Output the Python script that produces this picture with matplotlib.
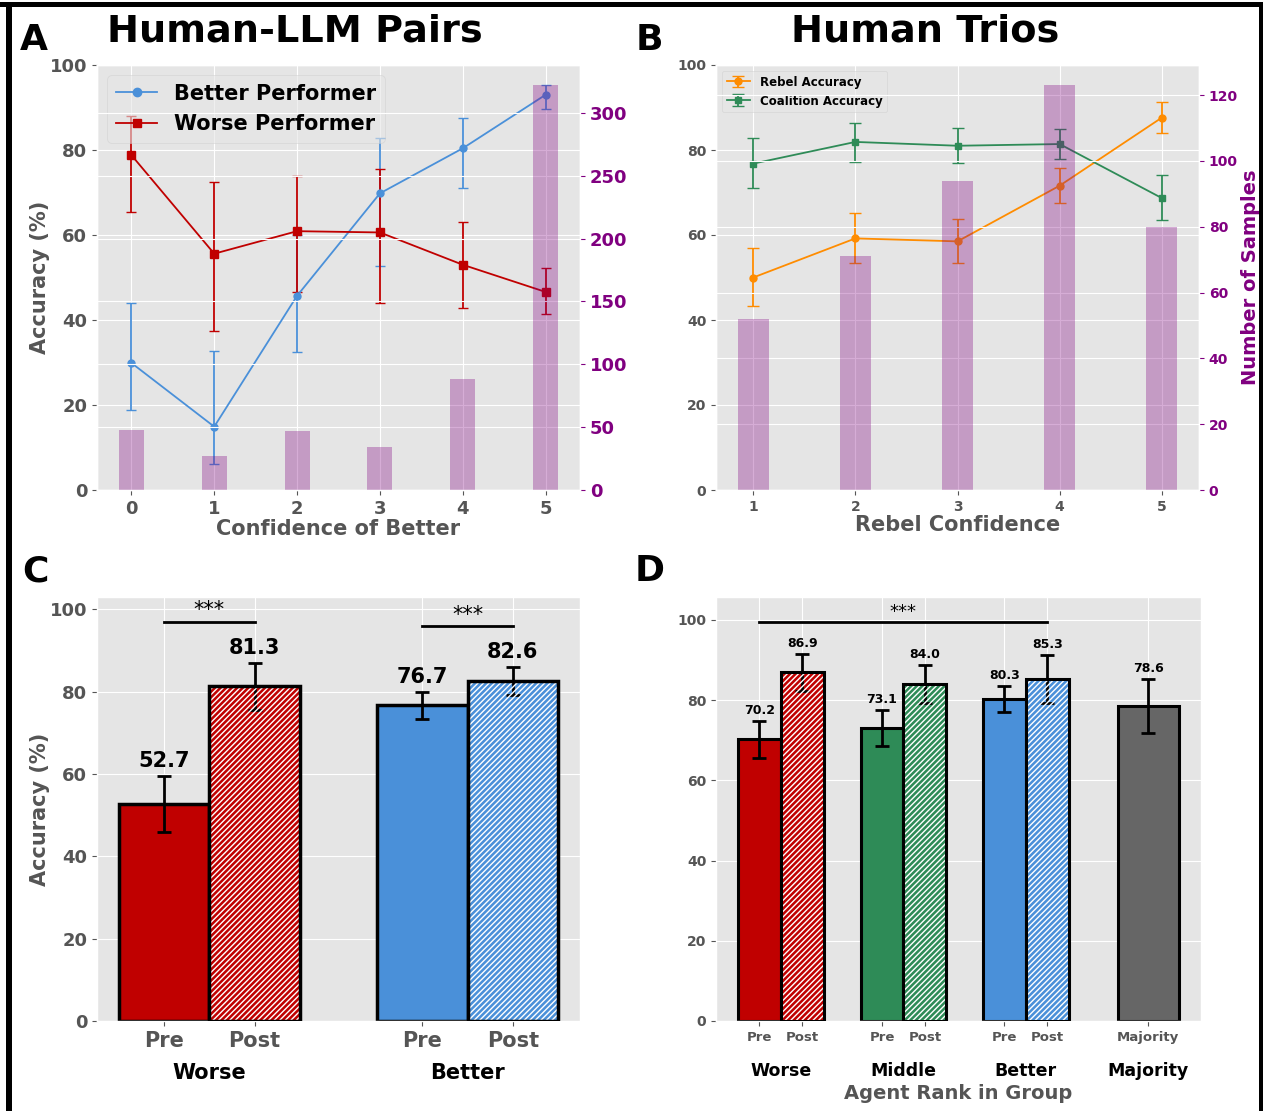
import matplotlib
matplotlib.use('Agg')
import matplotlib.pyplot as plt
import numpy as np
from matplotlib.transforms import blended_transform_factory
from matplotlib.patches import Rectangle
from matplotlib.lines import Line2D

plt.style.use('ggplot')
plt.rcParams['font.family'] = ['DejaVu Sans']
plt.rcParams['font.weight'] = 'bold'

# ---------------- Panel A data ----------------
conf_better = [0, 1, 2, 3, 4, 5]
better_acc = [29.9, 14.9, 45.7, 69.8, 80.4, 93.0]
better_lo = [18.9, 6.1, 32.4, 52.8, 71.0, 89.6]
better_hi = [44.1, 32.6, 60.0, 82.8, 87.6, 95.4]
worse_acc = [78.8, 55.6, 60.9, 60.6, 53.0, 46.6]
worse_lo = [65.3, 37.4, 46.7, 43.9, 42.8, 41.5]
worse_hi = [88.1, 72.5, 73.8, 75.5, 63.1, 52.3]
counts_a = [48, 27, 47, 34, 88, 322]

# ---------------- Panel B data ----------------
rebel_conf = [1, 2, 3, 4, 5]
rebel_acc = [50.0, 59.2, 58.5, 71.6, 87.6]
rebel_lo = [43.2, 53.3, 53.4, 67.5, 83.9]
rebel_hi = [57.0, 65.2, 63.7, 75.7, 91.3]
coal_acc = [76.8, 81.9, 81.0, 81.4, 68.7]
coal_lo = [71.1, 77.2, 76.9, 77.9, 63.5]
coal_hi = [82.9, 86.4, 85.1, 84.9, 74.1]
counts_b = [52, 71, 94, 123, 80]

# ---------------- Panel C data ----------------
c_groups = ['Worse', 'Better']
c_pre = [52.7, 76.7]
c_post = [81.3, 82.6]
c_pre_err = [6.9, 3.3]
c_post_err = [5.7, 3.3]

# ---------------- Panel D data ----------------
d_groups = ['Worse', 'Middle', 'Better']
d_pre = [70.2, 73.1, 80.3]
d_post = [86.9, 84.0, 85.3]
d_pre_err = [4.6, 4.5, 3.3]
d_post_err = [4.6, 4.7, 6.0]
majority_acc = 78.6
majority_err = 6.7

RED = '#C00000'
BLUE = '#4A90D9'
GREEN = '#2E8B57'
GRAY = '#666666'
ORANGE = '#FF8C00'
PURPLE = 'purple'
TICKGRAY = '#555555'

W, H = 1263, 1111
fig = plt.figure(figsize=(W / 100, H / 100), dpi=100)
fig.patch.set_facecolor('white')

def fx(px):
    return px / W

def fy(py):
    return 1 - py / H

def make_ax(l, r, t, b):
    return fig.add_axes([fx(l), fy(b), fx(r) - fx(l), fy(t) - fy(b)])

axA = make_ax(97, 580, 65, 490)
axB = make_ax(716, 1199, 65, 490)
axC = make_ax(97, 580, 597, 1021)
axD = make_ax(716, 1201, 597, 1021)

def asym(acc, lo, hi):
    acc = np.array(acc); lo = np.array(lo); hi = np.array(hi)
    return np.vstack([acc - lo, hi - acc])

# ---------------- Panel A ----------------
axA.errorbar(conf_better, better_acc, yerr=asym(better_acc, better_lo, better_hi),
             color=BLUE, marker='o', ms=5, lw=1.3, capsize=3.5, elinewidth=1.3)
axA.errorbar(conf_better, worse_acc, yerr=asym(worse_acc, worse_lo, worse_hi),
             color=RED, marker='s', ms=5.5, lw=1.3, capsize=3.5, elinewidth=1.3)
axA.set_ylim(0, 100)
axA.set_yticks([0, 20, 40, 60, 80, 100])
axA.set_xticks(conf_better)
axA.tick_params(axis='both', labelsize=13, colors=TICKGRAY)
for lab in axA.get_xticklabels() + axA.get_yticklabels():
    lab.set_fontweight('bold')
axA.set_ylabel('Accuracy (%)', fontsize=15, fontweight='bold', color=TICKGRAY, labelpad=0)
axA.set_xlabel('Confidence of Better', fontsize=15, fontweight='bold', color=TICKGRAY, labelpad=1)
handles = [Line2D([], [], color=BLUE, marker='o', ms=6, lw=1.3),
           Line2D([], [], color=RED, marker='s', ms=6, lw=1.3)]
axA.legend(handles, ['Better Performer', 'Worse Performer'], loc='upper left',
           prop={'size': 15, 'weight': 'bold'}, framealpha=0.6)
axA2 = axA.twinx()
axA2.bar(conf_better, counts_a, width=0.3, color=PURPLE, alpha=0.32)
axA2.set_ylim(0, max(counts_a) * 1.05)
axA2.set_yticks([0, 50, 100, 150, 200, 250, 300])
axA2.tick_params(axis='y', labelsize=13, colors=PURPLE)
for lab in axA2.get_yticklabels():
    lab.set_fontweight('bold')

# ---------------- Panel B ----------------
axB.errorbar(rebel_conf, rebel_acc, yerr=asym(rebel_acc, rebel_lo, rebel_hi),
             color=ORANGE, marker='o', ms=5, lw=1.3, capsize=4, elinewidth=1.3,
             label='Rebel Accuracy')
axB.errorbar(rebel_conf, coal_acc, yerr=asym(coal_acc, coal_lo, coal_hi),
             color=GREEN, marker='s', ms=5, lw=1.3, capsize=4, elinewidth=1.3,
             label='Coalition Accuracy')
axB.set_ylim(0, 100)
axB.set_yticks([0, 20, 40, 60, 80, 100])
axB.set_xticks(rebel_conf)
axB.tick_params(axis='both', labelsize=10, colors=TICKGRAY)
for lab in axB.get_xticklabels() + axB.get_yticklabels():
    lab.set_fontweight('bold')
axB.set_xlabel('Rebel Confidence', fontsize=15, fontweight='bold', color=TICKGRAY, labelpad=1)
axB.legend(loc='upper left', prop={'size': 8.5, 'weight': 'bold'}, framealpha=0.6)
axB2 = axB.twinx()
axB2.bar(rebel_conf, counts_b, width=0.3, color=PURPLE, alpha=0.32)
axB2.set_ylim(0, max(counts_b) * 1.05)
axB2.set_yticks([0, 20, 40, 60, 80, 100, 120])
axB2.tick_params(axis='y', labelsize=10, colors=PURPLE)
for lab in axB2.get_yticklabels():
    lab.set_fontweight('bold')
axB2.set_ylabel('Number of Samples', fontsize=14, fontweight='bold', color=PURPLE, labelpad=2)

# titles
fig.text(fx(295), fy(31), 'Human-LLM Pairs', fontsize=27.5, fontweight='bold',
         color='black', ha='center', va='center')
fig.text(fx(925), fy(31), 'Human Trios', fontsize=27.5, fontweight='bold',
         color='black', ha='center', va='center')

# ---------------- helpers for bar panels ----------------
def post_bar(ax, x, h, w, color, err, lw, capsize, elw):
    ax.bar(x, h, width=w, color=color, edgecolor='none', zorder=2)
    ax.errorbar(x, h, yerr=err, color='black', capsize=capsize, elinewidth=elw,
                capthick=elw, fmt='none', zorder=3)
    ax.bar(x, h, width=w, color='none', edgecolor='white', hatch='//////',
           linewidth=0, zorder=4)
    ax.bar(x, h, width=w, color='none', edgecolor='black', linewidth=lw, zorder=5)

def pre_bar(ax, x, h, w, color, err, lw, capsize, elw):
    ax.bar(x, h, width=w, color=color, edgecolor='black', linewidth=lw, zorder=2)
    ax.errorbar(x, h, yerr=err, color='black', capsize=capsize, elinewidth=elw,
                capthick=elw, fmt='none', zorder=6)

# ---------------- Panel C ----------------
wC = 0.35
c_colors = [RED, BLUE]
xc = np.arange(len(c_groups))
for i in range(len(c_groups)):
    pre_bar(axC, xc[i] - wC / 2, c_pre[i], wC, c_colors[i], c_pre_err[i], 2.5, 5, 2)
    post_bar(axC, xc[i] + wC / 2, c_post[i], wC, c_colors[i], c_post_err[i], 2.5, 5, 2)
    axC.text(xc[i] - wC / 2, c_pre[i] + c_pre_err[i] + 1.2, f'{c_pre[i]:.1f}',
             ha='center', va='bottom', fontsize=15, fontweight='bold', color='black')
    axC.text(xc[i] + wC / 2, c_post[i] + c_post_err[i] + 1.2, f'{c_post[i]:.1f}',
             ha='center', va='bottom', fontsize=15, fontweight='bold', color='black')
    top = max(c_pre[i] + c_pre_err[i], c_post[i] + c_post_err[i]) + 10
    axC.plot([xc[i] - wC / 2, xc[i] + wC / 2], [top, top], color='black', lw=2, zorder=7)
    axC.text(xc[i], top + 0.3, '***', ha='center', va='bottom', fontsize=15,
             fontweight='normal', color='black')
axC.set_ylim(0, 103)
axC.set_yticks([0, 20, 40, 60, 80, 100])
ticks_c = []
labels_c = []
for i in range(len(c_groups)):
    ticks_c += [xc[i] - wC / 2, xc[i] + wC / 2]
    labels_c += ['Pre', 'Post']
axC.set_xticks(ticks_c)
axC.set_xticklabels(labels_c)
axC.set_xlim(-0.435, 1.435)
axC.tick_params(axis='x', labelsize=15, colors=TICKGRAY)
axC.tick_params(axis='y', labelsize=13, colors=TICKGRAY)
for lab in axC.get_xticklabels() + axC.get_yticklabels():
    lab.set_fontweight('bold')
axC.set_ylabel('Accuracy (%)', fontsize=15, fontweight='bold', color=TICKGRAY, labelpad=0)
trC = blended_transform_factory(axC.transData, axC.transAxes)
for i, g in enumerate(c_groups):
    axC.text(xc[i], -0.123, g, transform=trC, ha='center', va='center',
             fontsize=15, fontweight='bold', color='black')

# ---------------- Panel D ----------------
wD = 0.35
d_colors = [RED, GREEN, BLUE]
xd = np.arange(len(d_groups))
for i in range(len(d_groups)):
    pre_bar(axD, xd[i] - wD / 2, d_pre[i], wD, d_colors[i], d_pre_err[i], 2.2, 5, 2)
    post_bar(axD, xd[i] + wD / 2, d_post[i], wD, d_colors[i], d_post_err[i], 2.2, 5, 2)
    axD.text(xd[i] - wD / 2, d_pre[i] + d_pre_err[i] + 1.0, f'{d_pre[i]:.1f}',
             ha='center', va='bottom', fontsize=9, fontweight='bold', color='black')
    axD.text(xd[i] + wD / 2, d_post[i] + d_post_err[i] + 1.0, f'{d_post[i]:.1f}',
             ha='center', va='bottom', fontsize=9, fontweight='bold', color='black')
xm = len(d_groups)
pre_bar(axD, xm, majority_acc, 0.5, GRAY, majority_err, 2.2, 5, 2)
axD.text(xm, majority_acc + majority_err + 1.0, f'{majority_acc:.1f}',
         ha='center', va='bottom', fontsize=9, fontweight='bold', color='black')
sig_y = max(np.array(d_post) + np.array(d_post_err)) + 8
axD.plot([xd[0] - wD / 2, xd[-1] + wD / 2], [sig_y, sig_y], color='black', lw=2, zorder=7)
axD.text((xd[0] - wD / 2 + xd[-1] + wD / 2) / 2, sig_y + 0.3, '***', ha='center',
         va='bottom', fontsize=13, fontweight='normal', color='black')
axD.set_ylim(0, 105.7)
axD.set_yticks([0, 20, 40, 60, 80, 100])
ticks_d = []
labels_d = []
for i in range(len(d_groups)):
    ticks_d += [xd[i] - wD / 2, xd[i] + wD / 2]
    labels_d += ['Pre', 'Post']
ticks_d.append(xm)
labels_d.append('Majority')
axD.set_xticks(ticks_d)
axD.set_xticklabels(labels_d)
axD.set_xlim(-0.53, 3.43)
axD.tick_params(axis='x', labelsize=9.5, colors=TICKGRAY)
axD.tick_params(axis='y', labelsize=10, colors=TICKGRAY)
for lab in axD.get_xticklabels() + axD.get_yticklabels():
    lab.set_fontweight('bold')
trD = blended_transform_factory(axD.transData, axD.transAxes)
for i, g in enumerate(d_groups + ['Majority']):
    axD.text(i, -0.118, g, transform=trD, ha='center', va='center',
             fontsize=12.5, fontweight='bold', color='black')
axD.text(0.5, -0.172, 'Agent Rank in Group', transform=axD.transAxes, ha='center',
         va='center', fontsize=14, fontweight='bold', color=TICKGRAY)

# ---------------- panel letters ----------------
for letter, px, py in [('A', 20, 40), ('B', 636, 40), ('C', 22, 571), ('D', 635, 571)]:
    fig.text(fx(px), fy(py), letter, fontsize=26, fontweight='bold', color='black',
             ha='left', va='center')

# ---------------- border ----------------
fig.add_artist(Rectangle((fx(0), fy(7)), fx(W), fy(2) - fy(7), transform=fig.transFigure,
                         color='black', lw=0))
fig.add_artist(Rectangle((fx(6), 0), fx(6), 1 - 2 / H, transform=fig.transFigure,
                         color='black', lw=0))
fig.add_artist(Rectangle((fx(1259), 0), fx(4), 1 - 2 / H, transform=fig.transFigure,
                         color='black', lw=0))

fig.savefig('out.png', dpi=100, facecolor='white')
